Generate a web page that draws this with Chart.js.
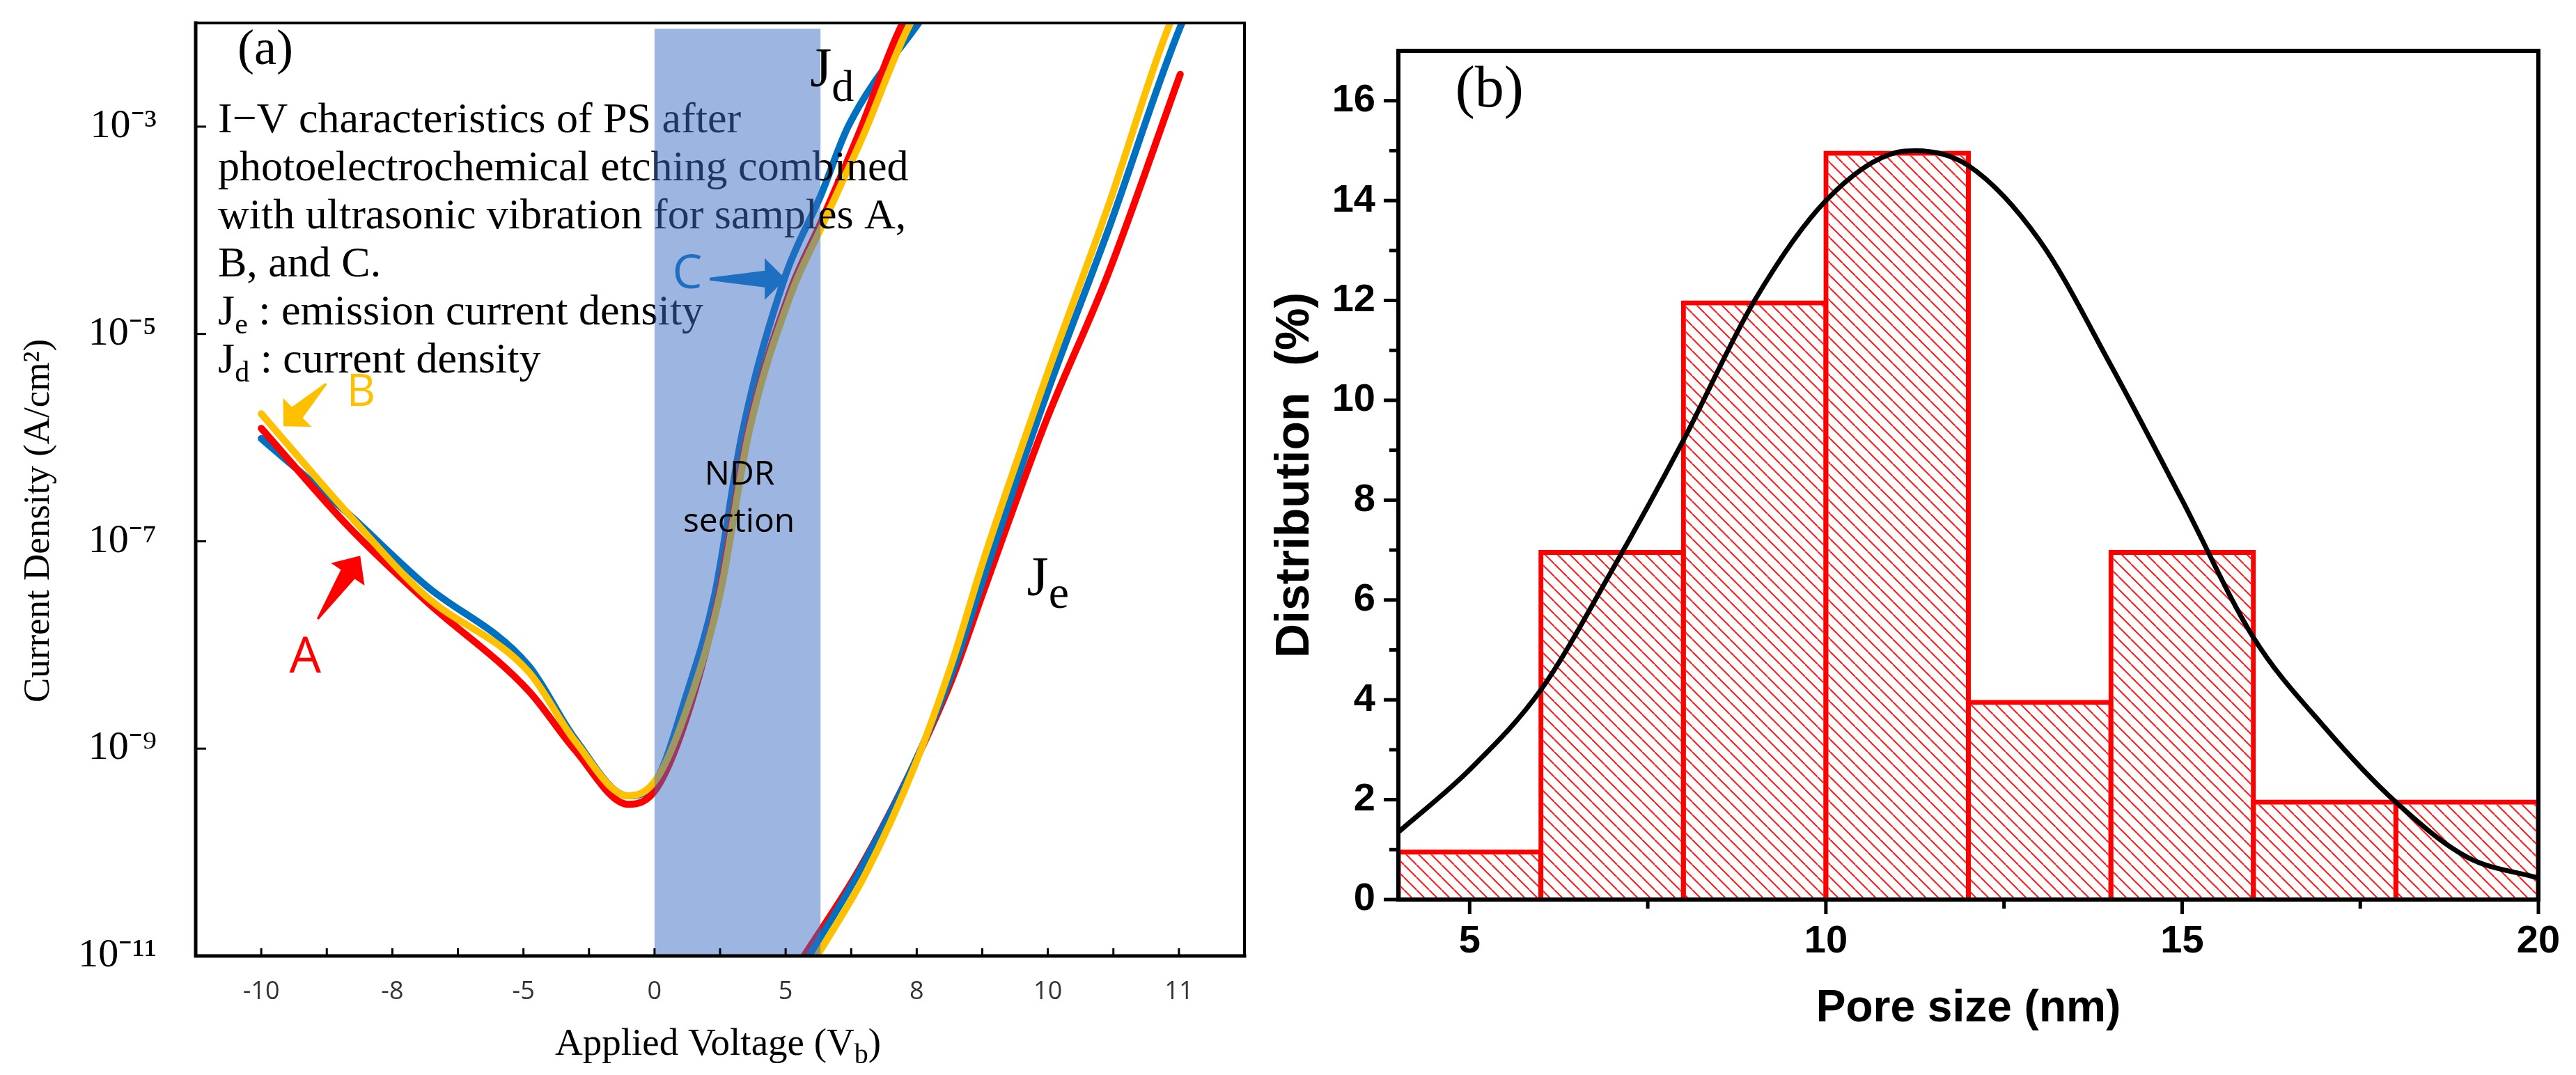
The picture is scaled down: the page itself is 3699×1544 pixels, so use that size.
<!DOCTYPE html>
<html><head><meta charset="utf-8">
<script src="https://cdn.jsdelivr.net/npm/chart.js@4.4.1/dist/chart.umd.min.js"></script>
<style>
html,body{margin:0;padding:0;background:#fff;}
#wrap{position:relative;width:3699px;height:1544px;overflow:hidden;background:#fff}
canvas{position:absolute;top:0}
#ca{left:0}
#cb{left:1800px}
</style></head><body>
<div id="wrap"><canvas id="ca" width="1800" height="1544"></canvas><canvas id="cb" width="1899" height="1544"></canvas></div>
<script>
// ---------------- Panel (a) data ----------------
// x = position along the voltage axis, in tick-label slots (slot i sits under voltageLabels[i])
const voltageLabels = ['-10', '-8', '-5', '0', '5', '8', '10', '11'];
const densityTicks = [1e-11, 1e-9, 1e-7, 1e-5, 1e-3];
const densityTickText = ['10\u207B\u00B9\u00B9', '10\u207B\u2079', '10\u207B\u2077', '10\u207B\u2075', '10\u207B\u00B3'];

// Jd (current density), samples A (red), B (yellow), C (blue)
const jdA = [[0,1.23e-6],[0.66,1.41e-7],[1.25,2.7e-8],[2.04,3.6e-9],[2.39,9.8e-10],[2.80,2.9e-10],[3.02,4.2e-10],[3.28,2.75e-9],[3.49,3.1e-8],[3.71,1.12e-6],[4.03,2.5e-5],[4.27,1.2e-4],[4.56,8.7e-4],[4.89,9.8e-3],[4.98,1.4e-2]];
const jdB = [[0,1.7e-6],[0.66,1.86e-7],[1.25,3.0e-8],[2.04,5.5e-9],[2.39,1.2e-9],[2.80,3.5e-10],[3.02,5.2e-10],[3.28,3.2e-9],[3.50,3.1e-8],[3.72,1.12e-6],[4.04,2.4e-5],[4.28,1.12e-4],[4.59,8.1e-4],[4.95,9.8e-3],[5.04,1.4e-2]];
const jdC = [[0,9.8e-7],[0.66,1.86e-7],[1.25,3.8e-8],[2.04,6.3e-9],[2.39,1.26e-9],[2.80,3.5e-10],[3.02,5.1e-10],[3.24,3.2e-9],[3.46,3.1e-8],[3.67,1.12e-6],[3.99,3.4e-5],[4.27,2.2e-4],[4.48,1.02e-3],[5.01,9.8e-3],[5.10,1.4e-2]];
// Je (emission current density)
const jeA = [[4.14,1e-11],[4.56,6.8e-11],[4.98,7.1e-10],[5.27,4.7e-9],[5.51,3.3e-8],[5.98,1.38e-6],[6.46,3.8e-5],[7.01,3.2e-3]];
const jeB = [[4.24,1e-11],[4.61,6.2e-11],[4.99,7.1e-10],[5.27,6.8e-9],[5.51,6.6e-8],[5.98,3.6e-6],[6.46,1.7e-4],[6.93,9.8e-3],[6.99,1.4e-2]];
const jeC = [[4.18,1e-11],[4.57,6.8e-11],[4.98,7.1e-10],[5.27,5.4e-9],[5.51,4.4e-8],[5.98,2.4e-6],[6.46,1.0e-4],[7.02,9.8e-3],[7.08,1.4e-2]];
// NDR section span (slots)
const ndrStart = 3.0, ndrEnd = 4.266, ndrTop = 8.8e-3;

// ---------------- Panel (b) data ----------------
const poreBinStarts = [4, 6, 8, 10, 12, 14, 16, 18];
const poreBinWidth = 2;
const distribution = [1, 7, 12, 15, 4, 7, 2, 2];
const fitPore = [4, 5, 6, 7, 8, 9, 10, 11, 11.26, 12, 13, 14, 15, 16, 17, 18, 19, 20];
const fitDist = [1.35, 2.6, 4.2, 6.6, 9.2, 12.0, 14.0, 14.97, 15.0, 14.7, 13.2, 10.7, 8.0, 5.25, 3.45, 1.95, 0.85, 0.43];
const poreTicks = [5, 10, 15, 20];
const distTicks = [0, 2, 4, 6, 8, 10, 12, 14, 16];

const RED = '#ff0000', YEL = '#ffc000', BLU = '#0070c0';
const SERIF = '"Liberation Serif", "Times New Roman", serif';
const SANS = '"Open Sans", "Liberation Sans", sans-serif';
const ARIAL = '"Liberation Sans", Arial, sans-serif';

const toXY = arr => arr.map(p => ({x: p[0], y: p[1]}));
function lineDs(data, color) {
  return {data: toXY(data), borderColor: color, borderWidth: 10, pointRadius: 0,
    cubicInterpolationMode: 'monotone', borderCapStyle: 'round', borderJoinStyle: 'round', clip: 0};
}
function noPad(s) { s.paddingTop = 0; s.paddingBottom = 0; s.paddingLeft = 0; s.paddingRight = 0; }

function drawSub(ctx, x, y, main, sub, fMain, fSub, dy, family, rest) {
  ctx.font = fMain + 'px ' + family; ctx.fillText(main, x, y);
  let w = ctx.measureText(main).width;
  ctx.font = fSub + 'px ' + family; ctx.fillText(sub, x + w, y + dy);
  w += ctx.measureText(sub).width;
  if (rest) { ctx.font = fMain + 'px ' + family; ctx.fillText(rest, x + w, y); w += ctx.measureText(rest).width; }
  return w;
}
function blockArrow(ctx, tail, tip, tailW, shaftW, headW, headLen, color) {
  const dx = tip[0] - tail[0], dy = tip[1] - tail[1], L = Math.hypot(dx, dy);
  const ux = dx / L, uy = dy / L, nx = -uy, ny = ux;
  const bx = tip[0] - ux * headLen, by = tip[1] - uy * headLen;
  ctx.beginPath();
  ctx.moveTo(tail[0] + nx * tailW / 2, tail[1] + ny * tailW / 2);
  ctx.lineTo(bx + nx * shaftW / 2, by + ny * shaftW / 2);
  ctx.lineTo(bx + nx * headW / 2, by + ny * headW / 2);
  ctx.lineTo(tip[0], tip[1]);
  ctx.lineTo(bx - nx * headW / 2, by - ny * headW / 2);
  ctx.lineTo(bx - nx * shaftW / 2, by - ny * shaftW / 2);
  ctx.lineTo(tail[0] - nx * tailW / 2, tail[1] - ny * tailW / 2);
  ctx.closePath(); ctx.fillStyle = color; ctx.fill();
}

const panelA = {
  id: 'panelA',
  afterDatasetsDraw(chart) {
    const {ctx, chartArea: a, scales: {x, y}} = chart;
    const P = (s, dec) => [x.getPixelForValue(s), y.getPixelForValue(Math.pow(10, dec))];
    ctx.save();
    ctx.textAlign = 'left'; ctx.textBaseline = 'alphabetic';
    // description block
    ctx.fillStyle = '#000';
    const lines = ['I\u2212V characteristics of PS after', 'photoelectrochemical etching combined', 'with ultrasonic vibration for samples A,', 'B, and C.'];
    const x0 = P(-0.33, 0)[0];
    lines.forEach((t, i) => { ctx.font = '62px ' + SERIF; ctx.fillText(t, x0, P(0, -3.055 - 0.4634 * i)[1]); });
    drawSub(ctx, x0, P(0, -3.055 - 0.4634 * 4)[1], 'J', 'e', 62, 42, 13, SERIF, ' : emission current density');
    drawSub(ctx, x0, P(0, -3.055 - 0.4634 * 5)[1], 'J', 'd', 62, 42, 13, SERIF, ' : current density');
    // sample markers
    ctx.textAlign = 'center'; ctx.textBaseline = 'middle';
    ctx.fillStyle = RED; ctx.font = '72px ' + SANS; let p = P(0.335, -8.13); ctx.fillText('A', p[0], p[1]);
    blockArrow(ctx, P(0.431, -7.75), P(0.755, -7.14), 3, 24, 58, 32, RED);
    ctx.fillStyle = YEL; ctx.font = '64px ' + SANS; p = P(0.761, -5.57); ctx.fillText('B', p[0], p[1]);
    blockArrow(ctx, P(0.495, -5.48), P(0.170, -5.89), 3, 22, 58, 28, YEL);
    ctx.fillStyle = BLU; ctx.font = '68px ' + SANS; p = P(3.25, -4.43); ctx.fillText('C', p[0], p[1]);
    blockArrow(ctx, P(3.42, -4.47), P(4.0, -4.47), 4, 24, 60, 30, BLU);
    // NDR shading (translucent, over curves and text)
    const sx0 = x.getPixelForValue(ndrStart), sx1 = x.getPixelForValue(ndrEnd), sy0 = y.getPixelForValue(ndrTop);
    ctx.fillStyle = 'rgba(60,110,195,0.5)';
    ctx.fillRect(sx0, sy0, sx1 - sx0, a.bottom - sy0);
    ctx.fillStyle = '#000'; ctx.font = '48px ' + SANS;
    p = P(3.649, -6.36); ctx.fillText('NDR', p[0], p[1]);
    p = P(3.644, -6.82); ctx.fillText('section', p[0], p[1]);
    // curve labels
    ctx.textAlign = 'left'; ctx.textBaseline = 'alphabetic';
    p = P(4.186, -2.612); drawSub(ctx, p[0], p[1], 'J', 'd', 80, 64, 21, SERIF);
    p = P(5.84, -7.52); drawSub(ctx, p[0], p[1], 'J', 'e', 80, 66, 18, SERIF);
    p = P(-0.181, -2.397); ctx.font = '72px ' + SERIF; ctx.fillText('(a)', p[0], p[1]);
    // frame
    ctx.strokeStyle = '#000'; ctx.lineCap = 'square';
    ctx.lineWidth = 4;
    ctx.beginPath(); ctx.moveTo(a.left, a.top); ctx.lineTo(a.right, a.top); ctx.lineTo(a.right, a.bottom); ctx.stroke();
    ctx.lineWidth = 5;
    ctx.beginPath(); ctx.moveTo(a.left, a.top); ctx.lineTo(a.left, a.bottom); ctx.lineTo(a.right, a.bottom); ctx.stroke();
    // inward ticks
    ctx.lineCap = 'butt'; ctx.lineWidth = 3;
    for (let k = 0; k <= 14; k++) {
      const px = x.getPixelForValue(k / 2);
      ctx.beginPath(); ctx.moveTo(px, a.bottom); ctx.lineTo(px, a.bottom - 11); ctx.stroke();
    }
    densityTicks.forEach(v => {
      const py = y.getPixelForValue(v);
      ctx.beginPath(); ctx.moveTo(a.left, py); ctx.lineTo(a.left + 15, py); ctx.stroke();
    });
    // axis titles
    ctx.fillStyle = '#000';
    drawSub(ctx, 797, 1515, 'Applied Voltage (V', 'b', 55, 40, 12, SERIF, ')');
    ctx.translate(70, 748); ctx.rotate(-Math.PI / 2);
    ctx.textAlign = 'center'; ctx.font = '53px ' + SERIF;
    ctx.fillText('Current Density (A/cm\u00B2)', 0, 0);
    ctx.restore();
  }
};

new Chart(document.getElementById('ca'), {
  type: 'line',
  data: { datasets: [lineDs(jdB, YEL), lineDs(jdA, RED), lineDs(jdC, BLU), lineDs(jeB, YEL), lineDs(jeC, BLU), lineDs(jeA, RED)] },
  options: {
    responsive: false, animation: false, devicePixelRatio: 1,
    layout: { autoPadding: false, padding: { left: 0, top: 33, right: 13, bottom: 0 } },
    plugins: { legend: { display: false }, tooltip: { enabled: false } },
    scales: {
      x: {
        type: 'linear', min: -0.5, max: 7.5,
        grid: { display: false, drawTicks: false }, border: { display: false },
        afterBuildTicks: s => { s.ticks = voltageLabels.map((_, i) => ({ value: i })); },
        afterFit: s => { s.height = 171; noPad(s); },
        ticks: { autoSkip: false, maxRotation: 0, padding: 30, color: '#333',
          font: { family: SANS, size: 36 }, callback: (v, i) => voltageLabels[i] }
      },
      y: {
        type: 'logarithmic', min: 1e-11, max: 1e-2,
        grid: { display: false, drawTicks: false }, border: { display: false },
        afterBuildTicks: s => { s.ticks = densityTicks.map(v => ({ value: v })); },
        afterFit: s => { s.width = 281; noPad(s); },
        ticks: { autoSkip: false, padding: 56, color: '#000',
          font: { family: SERIF, size: 58 }, callback: (v, i) => densityTickText[i] }
      }
    }
  },
  plugins: [panelA]
});

// ---------------- Panel (b) ----------------
const cb = document.getElementById('cb');
function hatch(ctx) {
  const s = 18, c = document.createElement('canvas'); c.width = s; c.height = s;
  const g = c.getContext('2d'); g.strokeStyle = 'rgba(255,0,0,0.9)'; g.lineWidth = 2;
  for (const k of [-1, 0, 1]) { g.beginPath(); g.moveTo(k * s, 0); g.lineTo(k * s + s, s); g.stroke(); }
  return ctx.createPattern(c, 'repeat');
}
const panelB = {
  id: 'panelB',
  afterDatasetsDraw(chart) {
    const {ctx, chartArea: a, scales: {x, y}} = chart;
    ctx.save();
    ctx.strokeStyle = '#000'; ctx.lineWidth = 6; ctx.lineCap = 'square';
    ctx.strokeRect(a.left, a.top, a.right - a.left, a.bottom - a.top);
    ctx.lineCap = 'butt'; ctx.lineWidth = 5;
    for (let v = 0; v <= 16; v++) {
      const py = y.getPixelForValue(v), L = v % 2 === 0 ? 18 : 10;
      ctx.beginPath(); ctx.moveTo(a.left, py); ctx.lineTo(a.left - 3 - L, py); ctx.stroke();
    }
    for (let v = 5; v <= 20; v += 2.5) {
      const px = x.getPixelForValue(v), L = v % 5 === 0 ? 18 : 10;
      ctx.beginPath(); ctx.moveTo(px, a.bottom); ctx.lineTo(px, a.bottom + 3 + L); ctx.stroke();
    }
    ctx.fillStyle = '#000'; ctx.font = '84px ' + SERIF; ctx.textAlign = 'left'; ctx.textBaseline = 'alphabetic';
    ctx.fillText('(b)', x.getPixelForValue(4.80), y.getPixelForValue(15.89));
    ctx.restore();
  }
};
new Chart(cb, {
  type: 'bar',
  data: { datasets: [
    { type: 'line', order: 0, data: fitPore.map((v, i) => ({ x: v, y: fitDist[i] })), borderColor: '#000', borderWidth: 7,
      pointRadius: 0, cubicInterpolationMode: 'monotone', clip: 0 },
    { type: 'bar', order: 1, data: poreBinStarts.map((s, i) => ({ x: s + poreBinWidth / 2, y: distribution[i] })),
      backgroundColor: hatch(cb.getContext('2d')), borderColor: RED, borderWidth: 7,
      barPercentage: 1.034, categoryPercentage: 1, clip: 0, inflateAmount: 0 }
  ] },
  options: {
    responsive: false, animation: false, devicePixelRatio: 1,
    layout: { autoPadding: false, padding: { left: 0, top: 73, right: 54, bottom: 0 } },
    plugins: { legend: { display: false }, tooltip: { enabled: false } },
    scales: {
      x: {
        type: 'linear', min: 4, max: 20, offset: false,
        grid: { display: false, drawTicks: true, tickLength: 21 }, border: { display: false },
        afterBuildTicks: s => { s.ticks = poreTicks.map(v => ({ value: v })); },
        afterFit: s => { s.height = 252; noPad(s); },
        ticks: { autoSkip: false, maxRotation: 0, padding: 6, color: '#000',
          font: { family: ARIAL, size: 56, weight: 'bold' } },
        title: { display: true, text: 'Pore size (nm)', color: '#000', padding: { top: 0, bottom: 56 },
          font: { family: ARIAL, size: 64, weight: 'bold' } }
      },
      y: {
        min: 0, max: 17,
        grid: { display: false, drawTicks: true, tickLength: 21 }, border: { display: false },
        afterBuildTicks: s => { s.ticks = distTicks.map(v => ({ value: v })); },
        afterFit: s => { s.width = 208; noPad(s); },
        ticks: { autoSkip: false, padding: 12, color: '#000',
          font: { family: ARIAL, size: 56, weight: 'bold' } },
        title: { display: true, text: 'Distribution  (%)', color: '#000', padding: { top: 19, bottom: 0 },
          font: { family: ARIAL, size: 68, weight: 'bold' } }
      }
    }
  },
  plugins: [panelB]
});
</script>
</body></html>
